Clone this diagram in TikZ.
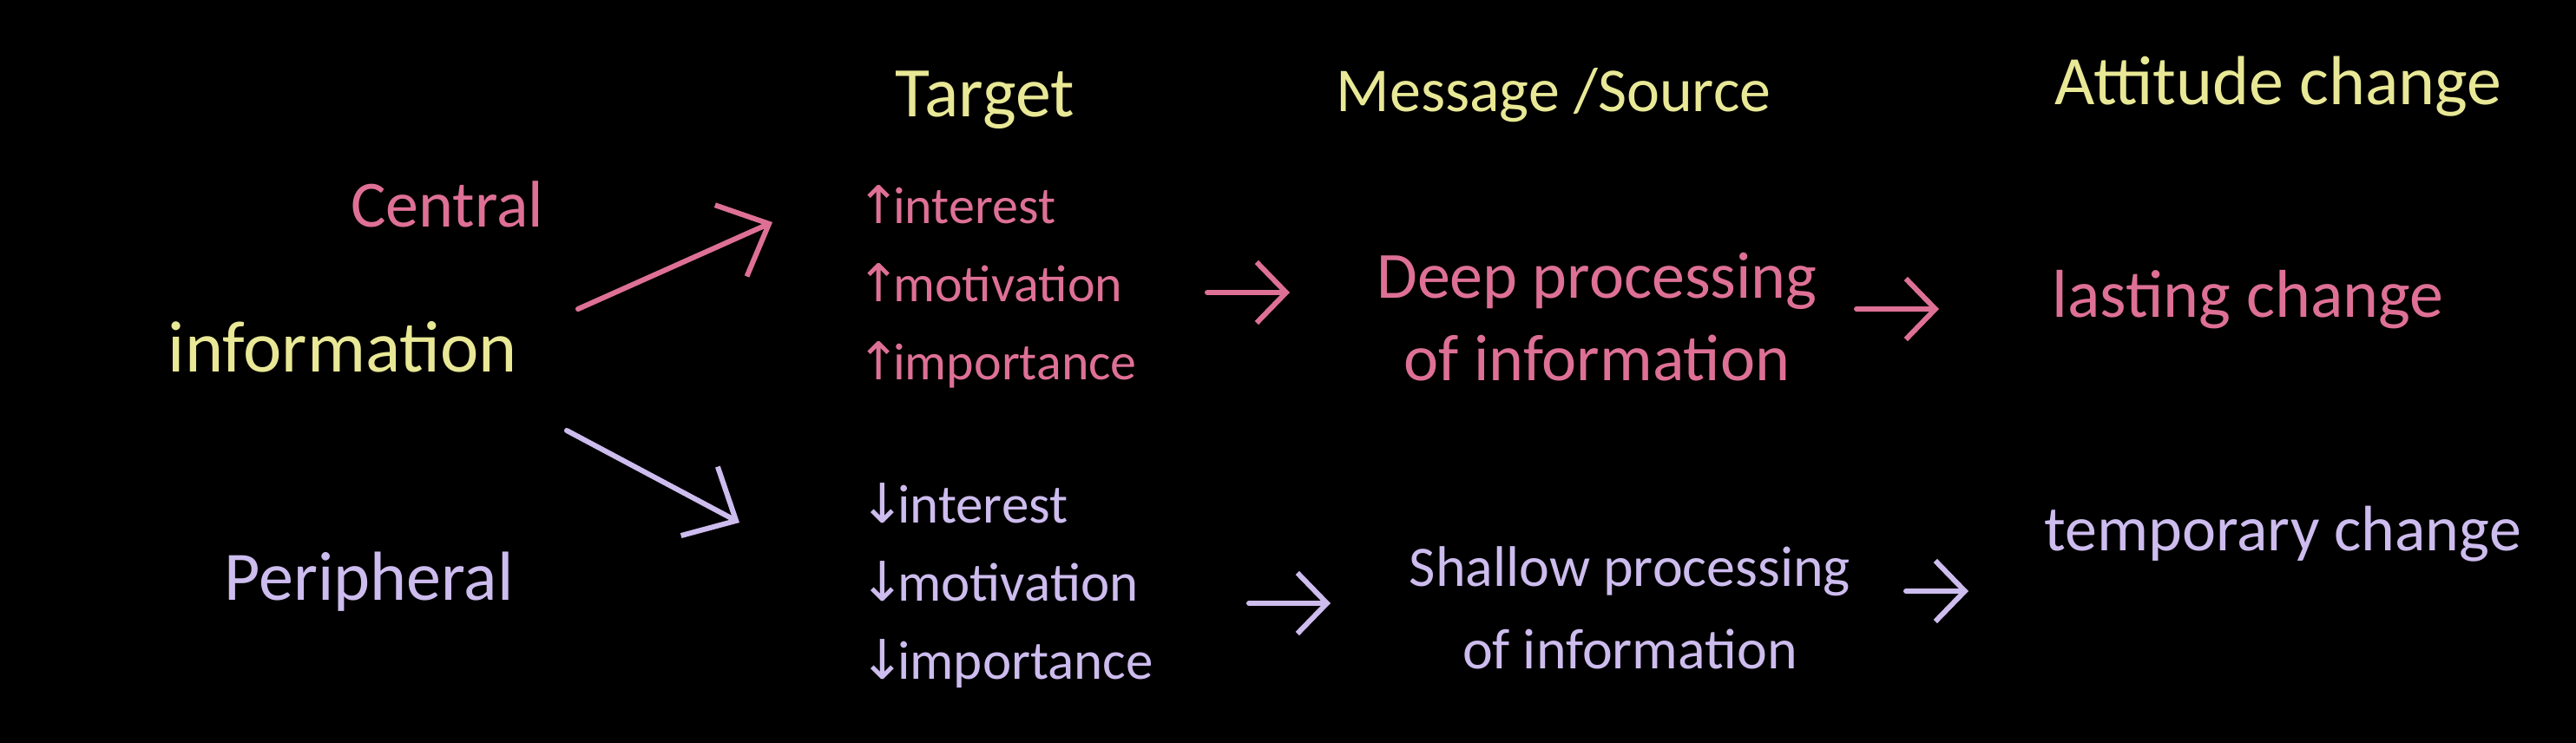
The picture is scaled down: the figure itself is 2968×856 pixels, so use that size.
\documentclass[tikz,border=0pt]{standalone}
\usepackage{fontspec}
\setmainfont{Carlito}
\newfontfamily\arrowfont{DejaVu Sans}
\usetikzlibrary{arrows.meta}
\definecolor{chalkyellow}{RGB}{232,232,150}
\definecolor{chalkpink}{RGB}{222,112,150}
\definecolor{chalklav}{RGB}{205,188,238}
\newcommand{\uparr}{{\arrowfont\makebox[34pt][c]{↑}}}
\newcommand{\downarr}{{\arrowfont\makebox[34pt][c]{↓}}}
\tikzset{
  lbl/.style={inner sep=0pt, align=center},
  head/.style={lbl, text=chalkyellow, font=\fontsize{82}{90}\selectfont},
  pinktxt/.style={lbl, text=chalkpink, font=\fontsize{76}{95}\selectfont},
  lavtxt/.style={lbl, text=chalklav, font=\fontsize{72}{95}\selectfont},
  bigarrow/.style={line width=6pt, line cap=round, -{Straight Barb[length=48pt,width=90pt,line width=6pt]}},
  smallarrow/.style={line width=6pt, line cap=round, -{Straight Barb[length=34pt,width=70pt,line width=6pt]}}
}
\begin{document}
\begin{tikzpicture}[x=1pt,y=-1pt]
\fill[black] (0,0) rectangle (2968,856);
\useasboundingbox (0,0) rectangle (2968,856);

% headings
\node[head] (target) at (1135,115) {Target};
\node[head, font=\fontsize{72}{90}\selectfont] (msg) at (1790,110) {Message /Source};
\node[head, font=\fontsize{80}{90}\selectfont] (att) at (2625,100) {Attitude change};

% left labels
\node[pinktxt] (central) at (515,235) {Central};
\node[lbl, text=chalkyellow, font=\fontsize{84}{90}\selectfont] (info) at (395,400) {information};
\node[lavtxt, font=\fontsize{80}{90}\selectfont] (periph) at (425,670) {Peripheral};

% upper row
\node[pinktxt, anchor=west, align=left, font=\fontsize{60}{90}\selectfont] (up) at (995,330)
  {\uparr interest\\\uparr motivation\\\uparr importance};
\node[pinktxt] (deep) at (1840,365) {Deep processing\\of information};
\node[pinktxt, font=\fontsize{78}{90}\selectfont] (lasting) at (2590,345) {lasting change};

% lower row
\node[lavtxt, anchor=west, align=left, font=\fontsize{63}{90}\selectfont] (down) at (1000,675)
  {\downarr interest\\\downarr motivation\\\downarr importance};
\node[lavtxt, font=\fontsize{66}{95}\selectfont] (shallow) at (1878,700) {Shallow processing\\of information};
\node[lavtxt, font=\fontsize{74}{90}\selectfont] (temp) at (2630,615) {temporary change};

% connector end points
\coordinate (c1s) at (666,356);
\coordinate (c1e) at (890,256);
\coordinate (c2s) at (653,496);
\coordinate (c2e) at (852,602);
\coordinate (c3s) at (1391,337);
\coordinate (c3e) at (1486,337);
\coordinate (c4s) at (2139,356);
\coordinate (c4e) at (2234,356);
\coordinate (c5s) at (1439,695);
\coordinate (c5e) at (1533,695);
\coordinate (c6s) at (2196,681);
\coordinate (c6e) at (2268,681);

\draw[bigarrow, chalkpink] (c1s) -- (c1e);
\draw[bigarrow, chalklav] (c2s) -- (c2e);
\draw[smallarrow, chalkpink] (c3s) -- (c3e);
\draw[smallarrow, chalkpink] (c4s) -- (c4e);
\draw[smallarrow, chalklav] (c5s) -- (c5e);
\draw[smallarrow, chalklav] (c6s) -- (c6e);
\end{tikzpicture}
\end{document}
